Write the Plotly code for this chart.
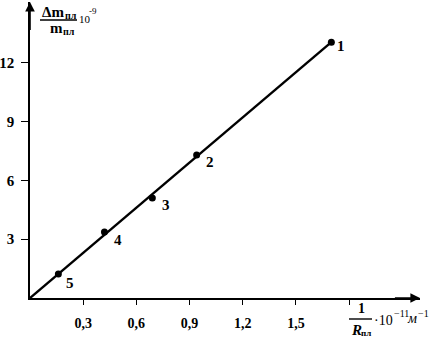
import plotly.graph_objects as go

# data
x_vals = [1.70, 0.94, 0.69, 0.42, 0.16]
y_vals = [13.05, 7.3, 5.1, 3.37, 1.22]
point_labels = ["1", "2", "3", "4", "5"]
fit_x = [0.0, 1.70]
fit_y = [0.0, 13.05]
x_ticks = [0.3, 0.6, 0.9, 1.2, 1.5, 1.8]
x_ticktext = ["0,3", "0,6", "0,9", "1,2", "1,5", ""]
y_ticks = [3, 6, 9, 12]
y_ticktext = ["3", "6", "9", "12"]

W, H = 436, 344
L, R, T, B = 30, 16, 2, 46
XMAX, YMAX = 2.2, 15.1
FONT = "Liberation Serif"


def px(xp):
    return (xp - L) / (W - L - R)


def py(yp):
    return (H - B - yp) / (H - T - B)


fig = go.Figure()
fig.add_trace(go.Scatter(x=fit_x, y=fit_y, mode="lines",
                         line=dict(color="black", width=2.4),
                         showlegend=False, hoverinfo="skip"))
fig.add_trace(go.Scatter(x=x_vals, y=y_vals, mode="markers",
                         marker=dict(color="black", size=7),
                         showlegend=False))

# point labels
offsets = [(10, 4), (13, 7), (14, 7), (14, 8), (12, 9)]
for xv, yv, t, (dx, dy) in zip(x_vals, y_vals, point_labels, offsets):
    fig.add_annotation(x=xv, y=yv, text=t, showarrow=False,
                       xshift=dx, yshift=-dy,
                       font=dict(family=FONT, size=15, color="black", weight="bold"))

# axis arrows
fig.add_annotation(x=XMAX, y=0, ax=XMAX - 0.15, ay=0, axref="x", ayref="y",
                   xref="x", yref="y", text="", showarrow=True,
                   arrowhead=2, arrowsize=1.2, arrowwidth=1.6, arrowcolor="black")
fig.add_annotation(x=0, y=YMAX, ax=0, ay=YMAX - 1.5, axref="x", ayref="y",
                   xref="x", yref="y", text="", showarrow=True,
                   arrowhead=2, arrowsize=1.2, arrowwidth=1.6, arrowcolor="black")


def txt(x, y, s, size, anchor="left", bold=True, italic=False):
    fig.add_annotation(xref="paper", yref="paper", x=px(x), y=py(y),
                       text=s, showarrow=False, xanchor=anchor, yanchor="middle",
                       borderpad=0,
                       font=dict(family=FONT, size=size, color="black",
                                 weight="bold" if bold else "normal",
                                 style="italic" if italic else "normal"))


# y-axis title (fraction)
txt(41, 12, "Δm", 15)
txt(64, 15, "пл", 10)
txt(49, 28, "m", 15)
txt(62, 31, "пл", 10)
txt(78, 19, "10", 11, bold=False)
txt(88, 11, "-9", 9, bold=False)
fig.add_shape(type="line", xref="paper", yref="paper",
              x0=px(40), x1=px(77), y0=py(20), y1=py(20),
              line=dict(color="black", width=1.4))

# x-axis title (fraction)
txt(361, 309, "1", 14, anchor="center")
txt(350, 330, "R", 15, italic=True)
txt(360, 333, "пл", 9)
txt(373, 320, "·10", 14, bold=False)
txt(393, 313, "−11", 10, bold=False)
txt(406, 318, "м", 14, bold=False, italic=True)
txt(417, 313, "−1", 10, bold=False)
fig.add_shape(type="line", xref="paper", yref="paper",
              x0=px(349), x1=px(372), y0=py(319), y1=py(319),
              line=dict(color="black", width=1.4))

fig.update_xaxes(range=[0, XMAX], showgrid=False, zeroline=False, automargin=False,
                 showline=True, linecolor="black", linewidth=1.6,
                 ticks="outside", ticklen=5, tickwidth=1.4, tickcolor="black",
                 tickvals=x_ticks, ticktext=x_ticktext, ticklabelstandoff=6,
                 tickfont=dict(family=FONT, size=14, color="black", weight="bold"))
fig.update_yaxes(range=[0, YMAX], showgrid=False, zeroline=False, automargin=False,
                 showline=True, linecolor="black", linewidth=1.6,
                 ticks="outside", ticklen=7, tickwidth=1.4, tickcolor="black",
                 tickvals=y_ticks, ticktext=y_ticktext, ticklabelstandoff=4,
                 tickfont=dict(family=FONT, size=15, color="black", weight="bold"))

fig.update_layout(width=W, height=H, margin=dict(l=L, r=R, t=T, b=B, autoexpand=False),
                  plot_bgcolor="white", paper_bgcolor="white",
                  showlegend=False)

fig.write_html("out.html", config={"displayModeBar": False},
               post_script="document.body.style.margin='0px';")
